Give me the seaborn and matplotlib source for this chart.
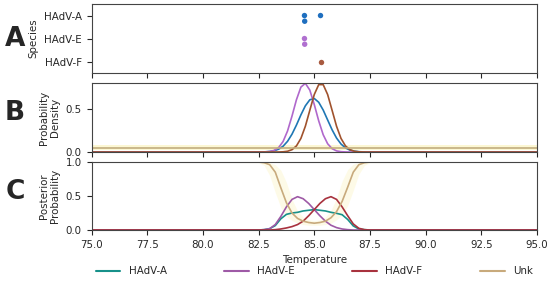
import matplotlib
matplotlib.use("Agg")
import matplotlib.pyplot as plt
from matplotlib.lines import Line2D
import seaborn as sns
import pandas as pd

# ---------------- data ----------------
species = ["HAdV-A", "HAdV-E", "HAdV-F"]
labels_all = ["HAdV-A", "HAdV-E", "HAdV-F", "Unk"]

# Panel A: observed melting temperatures
obs_A = [84.56, 84.57, 85.28]
obs_E = [84.56, 84.57]
obs_F = [85.29]

# Panel B: probability densities
temp_B = [75.0, 82.6, 82.8, 83.0, 83.2, 83.4, 83.6, 83.8, 84.0, 84.2, 84.4, 84.6, 84.8,
          85.0, 85.2, 85.4, 85.6, 85.8, 86.0, 86.2, 86.4, 86.6, 86.8, 87.0, 87.2, 87.4, 95.0]
dens_A = [0.0, 0.0007, 0.0022, 0.006, 0.0148, 0.033, 0.067, 0.124, 0.207, 0.313, 0.431, 0.536, 0.606,
          0.621, 0.577, 0.487, 0.372, 0.258, 0.162, 0.093, 0.048, 0.022, 0.0095, 0.0037, 0.0013, 0.0004, 0.0]
dens_E = [0.0, 0.0003, 0.0015, 0.0058, 0.019, 0.052, 0.122, 0.244, 0.417, 0.607, 0.753, 0.797, 0.718,
          0.551, 0.361, 0.201, 0.096, 0.039, 0.013, 0.004, 0.001, 0.0, 0.0, 0.0, 0.0, 0.0, 0.0]
dens_F = [0.0, 0.0, 0.0, 0.0, 0.0001, 0.0006, 0.0025, 0.0089, 0.027, 0.071, 0.158, 0.299, 0.484,
          0.667, 0.782, 0.782, 0.667, 0.484, 0.299, 0.158, 0.071, 0.027, 0.0089, 0.0025, 0.0006, 0.0001, 0.0]
temp_unk_B = [75.0, 95.0]
dens_unk = [0.05, 0.05]
dens_unk_lo = [0.025, 0.025]
dens_unk_hi = [0.08, 0.08]

# Panel C: posterior probabilities
temp_C = [75.0, 82.5, 82.75, 83.0, 83.25, 83.5, 83.75, 84.0, 84.25, 84.5, 84.75, 85.0,
          85.25, 85.5, 85.75, 86.0, 86.25, 86.5, 86.75, 87.0, 87.25, 87.5, 95.0]
post_A = [0.0, 0.0, 0.005, 0.02, 0.065, 0.165, 0.23, 0.25, 0.26, 0.28, 0.29, 0.30,
          0.29, 0.28, 0.26, 0.245, 0.225, 0.155, 0.06, 0.015, 0.005, 0.0, 0.0]
post_E = [0.0, 0.0, 0.005, 0.02, 0.08, 0.20, 0.34, 0.45, 0.49, 0.46, 0.39, 0.30,
          0.21, 0.13, 0.07, 0.035, 0.015, 0.005, 0.0, 0.0, 0.0, 0.0, 0.0]
post_F = [0.0, 0.0, 0.0, 0.0, 0.005, 0.015, 0.03, 0.05, 0.08, 0.13, 0.21, 0.30,
          0.39, 0.46, 0.49, 0.45, 0.34, 0.21, 0.09, 0.025, 0.005, 0.0, 0.0]
post_unk = [1.0, 1.0, 0.99, 0.96, 0.85, 0.62, 0.40, 0.25, 0.17, 0.13, 0.11, 0.10,
            0.11, 0.13, 0.18, 0.27, 0.42, 0.63, 0.85, 0.96, 0.99, 1.0, 1.0]
post_unk_hi = [1.0, 1.0, 1.0, 0.99, 0.96, 0.88, 0.70, 0.45, 0.28, 0.19, 0.15, 0.14,
               0.15, 0.19, 0.29, 0.47, 0.72, 0.89, 0.97, 0.99, 1.0, 1.0, 1.0]
post_unk_lo = [1.0, 0.99, 0.95, 0.80, 0.55, 0.33, 0.20, 0.14, 0.10, 0.08, 0.07, 0.07,
               0.07, 0.08, 0.10, 0.15, 0.22, 0.36, 0.58, 0.82, 0.95, 0.99, 1.0]

x_ticks = [75.0, 77.5, 80.0, 82.5, 85.0, 87.5, 90.0, 92.5, 95.0]

# ---------------- style ----------------
sns.set_style("ticks")
plt.rcParams["font.family"] = ["DejaVu Sans"]
plt.rcParams["font.size"] = 7.4
plt.rcParams["axes.linewidth"] = 0.8

dot_colors = {"HAdV-A": "#1f6fbf", "HAdV-E": "#b070d0", "HAdV-F": "#a85a40"}
colB = {"HAdV-A": "#1f77b4", "HAdV-E": "#b068cc", "HAdV-F": "#a0522d", "Unk": "#c2ad7e"}
colC = {"HAdV-A": "#17918a", "HAdV-E": "#9e5aa6", "HAdV-F": "#a8323e", "Unk": "#c8aa7c"}
band_col = "#fbf1b0"

fig = plt.figure(figsize=(5.5, 2.81), dpi=100)
L, W = 0.1664, 0.8100
axA = fig.add_axes([L, 0.740, W, 0.2456])
axB = fig.add_axes([L, 0.459, W, 0.2445])
axC = fig.add_axes([L, 0.1815, W, 0.2420])

# ---- Panel A ----
dfA = pd.DataFrame({
    "Temperature": obs_A + obs_E + obs_F,
    "Species": ["HAdV-A"] * len(obs_A) + ["HAdV-E"] * len(obs_E) + ["HAdV-F"] * len(obs_F),
})
sns.swarmplot(data=dfA, x="Temperature", y="Species", hue="Species", order=species,
              hue_order=species, palette=dot_colors, size=3.9, orient="h",
              legend=False, ax=axA, linewidth=0)
axA.set_ylabel("Species")
axA.set_xlabel("")

# ---- Panel B ----
dfB = pd.concat([
    pd.DataFrame({"Temperature": temp_B, "Value": dens_A, "Species": "HAdV-A"}),
    pd.DataFrame({"Temperature": temp_B, "Value": dens_E, "Species": "HAdV-E"}),
    pd.DataFrame({"Temperature": temp_B, "Value": dens_F, "Species": "HAdV-F"}),
    pd.DataFrame({"Temperature": temp_unk_B, "Value": dens_unk, "Species": "Unk"}),
], ignore_index=True)
axB.fill_between(temp_unk_B, dens_unk_lo, dens_unk_hi, color=band_col, alpha=0.55, lw=0)
sns.lineplot(data=dfB, x="Temperature", y="Value", hue="Species", hue_order=labels_all,
             palette=colB, linewidth=1.2, legend=False, ax=axB, estimator=None, sort=True)
axB.set_ylim(0, 0.797)
axB.set_yticks([0.0, 0.5])
axB.set_ylabel("Probability\nDensity")
axB.set_xlabel("")

# ---- Panel C ----
dfC = pd.concat([
    pd.DataFrame({"Temperature": temp_C, "Value": post_A, "Species": "HAdV-A"}),
    pd.DataFrame({"Temperature": temp_C, "Value": post_E, "Species": "HAdV-E"}),
    pd.DataFrame({"Temperature": temp_C, "Value": post_F, "Species": "HAdV-F"}),
    pd.DataFrame({"Temperature": temp_C, "Value": post_unk, "Species": "Unk"}),
], ignore_index=True)
axC.fill_between(temp_C, post_unk_lo, post_unk_hi, color=band_col, alpha=0.3, lw=0)
sns.lineplot(data=dfC, x="Temperature", y="Value", hue="Species", hue_order=labels_all,
             palette=colC, linewidth=1.2, legend=False, ax=axC, estimator=None, sort=True)
axC.set_ylim(0, 1.0)
axC.set_yticks([0.0, 0.5, 1.0])
axC.set_ylabel("Posterior\nProbability")
axC.set_xlabel("Temperature")

for ax in (axA, axB, axC):
    ax.set_xlim(x_ticks[0], x_ticks[-1])
    ax.set_xticks(x_ticks)
    ax.tick_params(labelsize=7.4, length=3.5, width=0.8)
    for s in ax.spines.values():
        s.set_visible(True)
        s.set_color("#444444")
axA.set_xticklabels([])
axB.set_xticklabels([])
axC.set_xticklabels([f"{t:.1f}" for t in x_ticks])

# panel letters
for letter, y in zip(["A", "B", "C"], [0.862, 0.598, 0.315]):
    fig.text(0.027, y, letter, fontsize=19, fontweight="bold", ha="center", va="center")

# legend
handles = [Line2D([0], [0], color=colC[k], lw=1.5) for k in labels_all]
fig.legend(handles, labels_all, loc="center", ncol=4, mode="expand", frameon=False,
           bbox_to_anchor=(L, 0.0, W, 0.07), fontsize=7.4, handlelength=2.4,
           borderaxespad=0, handletextpad=0.8)

fig.savefig("out.png", dpi=100)
